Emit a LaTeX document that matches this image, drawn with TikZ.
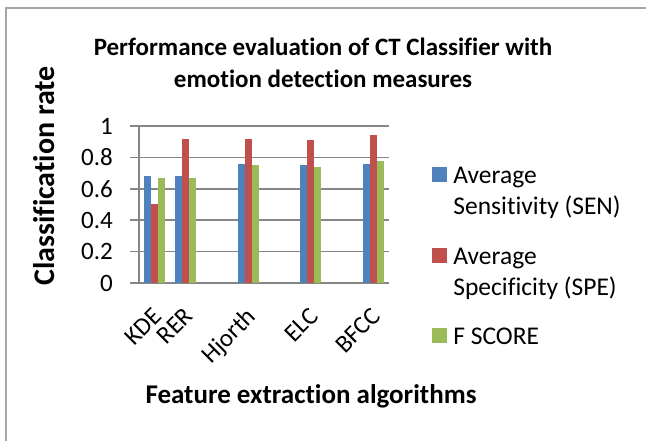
\documentclass[tikz,border=0pt]{standalone}
\usepackage{fontspec}
\setmainfont{Carlito}[Ligatures=NoCommon]
\usetikzlibrary{positioning}

\definecolor{senblue}{HTML}{4F81BD}
\definecolor{spered}{HTML}{C0504D}
\definecolor{fgreen}{HTML}{9BBB59}
\definecolor{gridgray}{HTML}{868686}
\definecolor{framegray}{HTML}{A6A6A6}

\begin{document}
\begin{tikzpicture}[
    % GLOBAL CFG
    x=1pt, y=-1pt,
    font=\fontsize{25}{31}\selectfont,
    % Styles
    chartframe/.style={
        draw=framegray,
        line width=1.5pt,
    },
    gridline/.style={
        draw=gridgray,
        line width=1.5pt,
    },
    senbar/.style={fill=senblue},
    spebar/.style={fill=spered},
    fbar/.style={fill=fgreen},
    ticklabel/.style={
        anchor=east,
        inner sep=0pt,
    },
    catlabel/.style={
        anchor=north east,
        rotate=45,
        inner sep=0pt,
    },
    axistitle/.style={
        font=\fontsize{27}{30}\selectfont\bfseries,
        inner sep=0pt,
    },
    legendkey/.style={
        fill=#1,
        minimum size=15pt,
        inner sep=0pt,
    },
    legendtext/.style={
        align=left,
        inner sep=0pt,
        font=\fontsize{25.5}{31}\selectfont,
    },
]

\useasboundingbox (0,0) rectangle (646,441);

% Chart area border: only left and top edges show
\draw[chartframe] (6,441) -- (6,8) -- (646,8);

% Title
\node[font=\fontsize{25}{32}\selectfont\bfseries, align=center, anchor=north, inner sep=0pt] (title) at (323,38)
    {Performance evaluation of CT Classifier with\\emotion detection measures};

% Axis titles
\node[axistitle, font=\fontsize{30}{32}\selectfont\bfseries, rotate=90] (ytitle) at (44.5,176) {Classification rate};
\node[axistitle, anchor=base] (xtitle) at (311,403) {Feature extraction algorithms};

% Plot area, values in classification rate units
\begin{scope}[shift={(0,283)}, y=157pt]
    % Gridlines and axis
    \draw[gridline] (130,0) -- (389,0);
    \draw[gridline] (130,0.2) -- (389,0.2);
    \draw[gridline] (130,0.4) -- (389,0.4);
    \draw[gridline] (130,0.6) -- (389,0.6);
    \draw[gridline] (130,0.8) -- (389,0.8);
    \draw[gridline] (130,1) -- (389,1);
    \draw[gridline] (139,0) -- (139,1);

    % Tick labels named ylab#
    \node[ticklabel] (ylab0) at (113,0) {0};
    \node[ticklabel] (ylab1) at (113,0.2) {0.2};
    \node[ticklabel] (ylab2) at (113,0.4) {0.4};
    \node[ticklabel] (ylab3) at (113,0.6) {0.6};
    \node[ticklabel] (ylab4) at (113,0.8) {0.8};
    \node[ticklabel] (ylab5) at (113,1) {1};

    % Bars: SEN, SPE, F SCORE per algorithm
    \fill[senbar] (144.1,0) rectangle +(7,0.68);
    \fill[spebar] (151.1,0) rectangle +(7,0.50);
    \fill[fbar]   (158.1,0) rectangle +(7,0.67);

    \fill[senbar] (175.4,0) rectangle +(7,0.68);
    \fill[spebar] (182.4,0) rectangle +(7,0.92);
    \fill[fbar]   (189.4,0) rectangle +(7,0.67);

    \fill[senbar] (237.9,0) rectangle +(7,0.76);
    \fill[spebar] (244.9,0) rectangle +(7,0.92);
    \fill[fbar]   (251.9,0) rectangle +(7,0.75);

    \fill[senbar] (300.4,0) rectangle +(7,0.75);
    \fill[spebar] (307.4,0) rectangle +(7,0.91);
    \fill[fbar]   (314.4,0) rectangle +(7,0.74);

    \fill[senbar] (362.9,0) rectangle +(7,0.76);
    \fill[spebar] (369.9,0) rectangle +(7,0.94);
    \fill[fbar]   (376.9,0) rectangle +(7,0.78);
\end{scope}

% Category labels named cat#
\node[catlabel] (catKDE) at (152,306) {KDE};
\node[catlabel] (catRER) at (183,306) {RER};
\node[catlabel] (catHjorth) at (245,306) {Hjorth};
\node[catlabel] (catELC) at (308,306) {ELC};
\node[catlabel] (catBFCC) at (370,306) {BFCC};

% Legend
\node[legendkey=senblue] (keysen) at (439.5,174.5) {};
\node[legendkey=spered] (keyspe) at (439.5,255.5) {};
\node[legendkey=fgreen] (keyf) at (439.5,335.5) {};
\node[legendtext, right=6pt of keysen.north east, anchor=north west] (txtsen) {Average\\Sensitivity (SEN)};
\node[legendtext, right=6pt of keyspe.north east, anchor=north west] (txtspe) {Average\\Specificity (SPE)};
\node[legendtext, right=6pt of keyf.north east, anchor=north west] (txtf) {F SCORE};

\end{tikzpicture}
\end{document}
